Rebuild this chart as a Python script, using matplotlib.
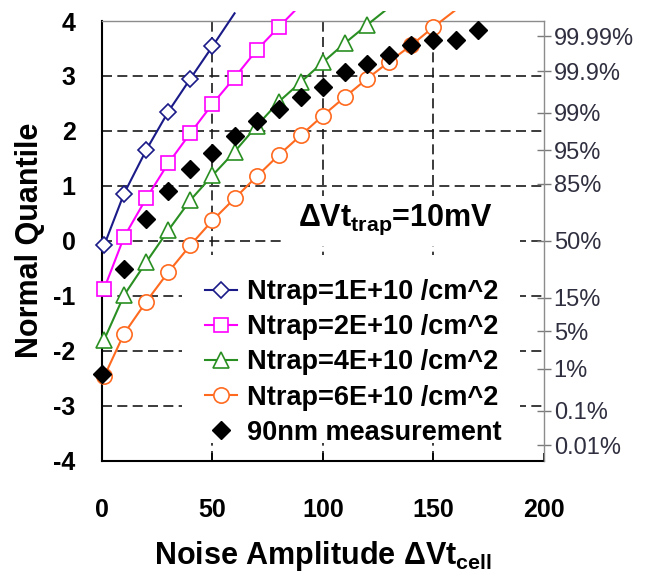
import matplotlib
matplotlib.use("Agg")
import matplotlib.pyplot as plt
from matplotlib.lines import Line2D
from matplotlib.patches import Rectangle

plt.rcParams['font.family'] = ['Liberation Sans', 'DejaVu Sans']
plt.rcParams['mathtext.fontset'] = 'custom'
plt.rcParams['mathtext.rm'] = 'Liberation Sans'
plt.rcParams['mathtext.bf'] = 'Liberation Sans:bold'
plt.rcParams['mathtext.it'] = 'Liberation Sans:italic'
plt.rcParams['mathtext.default'] = 'bf'
plt.rcParams['axes.unicode_minus'] = False

# -------------------------
# Data
# -------------------------
n1_x = [1, 10, 20, 30, 40, 50, 60]
n1_y = [-0.08, 0.86, 1.65, 2.35, 2.95, 3.54, 4.14]

n2_x = [1, 10, 20, 30, 40, 50, 60, 70, 80, 90]
n2_y = [-0.87, 0.07, 0.77, 1.41, 1.96, 2.49, 2.97, 3.47, 3.89, 4.30]

n4_x = [1, 10, 20, 30, 40, 50, 60, 70, 80, 90, 100, 110, 120, 130]
n4_y = [-1.80, -0.99, -0.39, 0.19, 0.74, 1.19, 1.62, 2.09, 2.53, 2.89, 3.25, 3.60, 3.93, 4.25]

n6_x = [1, 10, 20, 30, 40, 50, 60, 70, 80, 90, 100, 110, 120, 130, 140, 150, 160]
n6_y = [-2.47, -1.69, -1.11, -0.57, -0.08, 0.37, 0.77, 1.17, 1.56, 1.92, 2.28, 2.62,
        2.95, 3.26, 3.56, 3.89, 4.20]

meas_x = [0, 10, 20, 30, 40, 50, 60, 70, 80, 90, 100, 110, 120, 130, 140, 150, 160, 170]
meas_y = [-2.42, -0.51, 0.39, 0.90, 1.30, 1.60, 1.90, 2.18, 2.39, 2.62, 2.80, 3.07,
          3.21, 3.38, 3.56, 3.65, 3.66, 3.83]

labels = ["Ntrap=1E+10 /cm^2", "Ntrap=2E+10 /cm^2", "Ntrap=4E+10 /cm^2",
          "Ntrap=6E+10 /cm^2", "90nm measurement"]

# normal quantiles of the right-hand percent scale
pct_z = [3.719, 3.090, 2.326, 1.645, 1.036, 0.0, -1.036, -1.645, -2.326, -3.090, -3.719]
pct_labels = ["99.99%", "99.9%", "99%", "95%", "85%", "50%", "15%", "5%", "1%", "0.1%", "0.01%"]

x_ticks = [0, 50, 100, 150, 200]
y_ticks = [-4, -3, -2, -1, 0, 1, 2, 3, 4]

# -------------------------
# Plot
# -------------------------
fig = plt.figure(figsize=(6.48, 5.76), dpi=100)
ax = fig.add_axes([0.1574, 0.2005, 0.682, 0.763])
ax.set_xlim(0, 200)
ax.set_ylim(-4, 4)

# dashed grid (only inner lines)
for gx in x_ticks[1:-1]:
    ax.axvline(gx, color='#1a1a1a', lw=1.2, ls=(0, (6, 3.2)), zorder=1)
for gy in y_ticks[1:-1]:
    ax.axhline(gy, color='#1a1a1a', lw=1.2, ls=(0, (6, 3.2)), zorder=1)

# white areas behind the annotation and the legend
ax.add_patch(Rectangle((0.409, 0.488), 0.537, 0.114, transform=ax.transAxes,
                       facecolor='white', edgecolor='none', zorder=2))
ax.add_patch(Rectangle((0.181, 0.04), 0.765, 0.428, transform=ax.transAxes,
                       facecolor='white', edgecolor='none', zorder=2))

clip_rect = Rectangle((0, 0), 1, 1.022, transform=ax.transAxes)

series = [
    (n1_x, n1_y, '#1a1a88', 'D', 8),
    (n2_x, n2_y, '#ff00ff', 's', 10),
    (n4_x, n4_y, '#2a8f22', '^', 11),
    (n6_x, n6_y, '#ff6a1f', 'o', 11),
]
handles = []
for xs, ys, c, mk, ms in series:
    ln, = ax.plot(xs, ys, color=c, lw=1.5, zorder=3)
    ln.set_clip_path(clip_rect)
    mx = [x for x, y in zip(xs, ys) if y <= 4]
    my = [y for y in ys if y <= 4]
    ax.plot(mx, my, ls='none', marker=mk, ms=ms, mfc='white', mec=c, mew=1.2,
            zorder=4, clip_on=False)
    handles.append(Line2D([], [], color=c, lw=1.5, marker=mk, ms=ms, mfc='white',
                          mec=c, mew=1.2))

ax.plot(meas_x, meas_y, ls='none', marker='D', ms=9.5, color='black', zorder=5,
        clip_on=False)
handles.append(Line2D([], [], ls='none', marker='D', ms=9.5, color='black'))

leg = ax.legend(handles, labels, loc='upper left', bbox_to_anchor=(0.233, 0.413),
                frameon=False, borderaxespad=0, borderpad=0,
                handlelength=1.2, handletextpad=0.35, labelspacing=0.34,
                numpoints=1, prop={'weight': 'bold', 'size': 19.5})
leg.set_zorder(6)

ax.text(0.665, 0.548, r'$\Delta Vt_{trap}$=10mV', transform=ax.transAxes,
        ha='center', va='center', fontsize=22, fontweight='bold', zorder=6)

# axes styling
ax.set_xticks(x_ticks)
ax.set_yticks(y_ticks)
ax.tick_params(axis='x', direction='in', length=6, width=1.2, pad=27,
               labelsize=18)
ax.tick_params(axis='y', length=0, pad=19, labelsize=18)
for t in ax.get_xticklabels() + ax.get_yticklabels():
    t.set_fontweight('bold')
for s in ['left', 'bottom']:
    ax.spines[s].set_linewidth(1.5)
    ax.spines[s].set_color('black')
ax.spines['top'].set_color('#8c8c8c')
ax.spines['top'].set_linewidth(1.0)
ax.spines['right'].set_visible(False)

ax.set_xlabel(r'Noise Amplitude $\Delta Vt_{cell}$', fontsize=22,
              fontweight='bold', labelpad=12)
ax.set_ylabel('Normal Quantile', fontsize=22, fontweight='bold', labelpad=6)

# right-hand percent axis
ax2 = ax.twinx()
ax2.set_ylim(-4, 4)
ax2.set_yticks(pct_z)
ax2.set_yticklabels(pct_labels)
ax2.tick_params(axis='y', direction='inout', length=10, width=1.0,
                color='#7a7a7a', labelcolor='#2f2f40', labelsize=17, pad=2)
for s in ['left', 'top', 'bottom']:
    ax2.spines[s].set_visible(False)
ax2.spines['right'].set_color('#8c8c8c')
ax2.spines['right'].set_linewidth(1.0)

fig.savefig('out.png', dpi=100)
